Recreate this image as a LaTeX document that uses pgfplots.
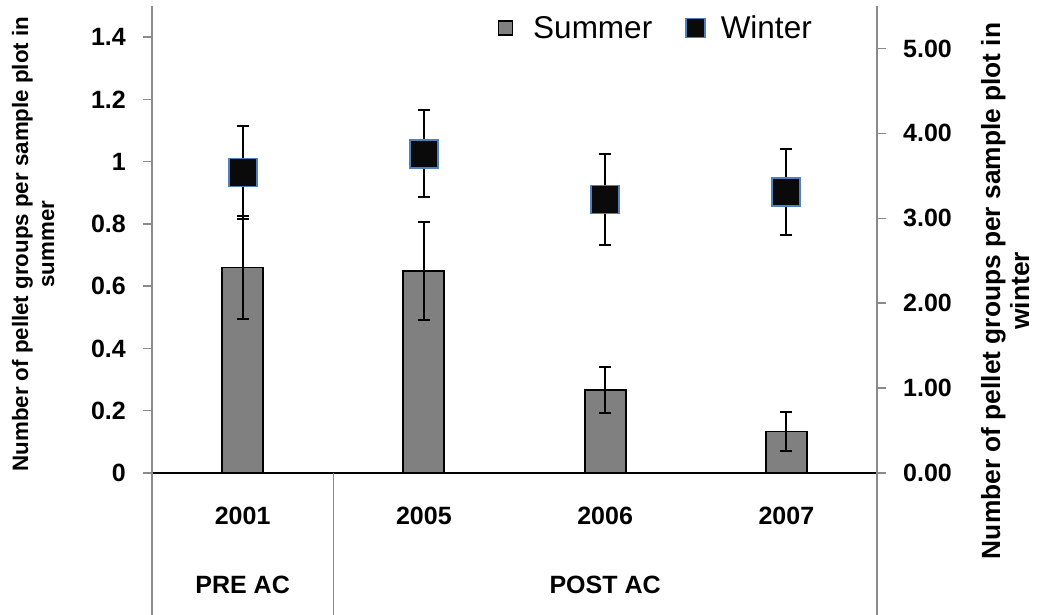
\documentclass[border=0pt]{standalone}
\usepackage{fontspec}
\setmainfont{Liberation Sans}
\usepackage{pgfplots}
\usepackage{pgfplotstable}
\pgfplotsset{compat=1.18}

\definecolor{barfill}{HTML}{808080}
\definecolor{axgray}{HTML}{8A8A8A}
\definecolor{winterfill}{HTML}{0A0A0A}
\definecolor{winteredge}{HTML}{4F81BD}

% mean pellet groups per sample plot, with error
\pgfplotstableread{
x  y      e
0  0.66   0.165
1  0.65   0.157
2  0.267  0.075
3  0.133  0.062
}\summer
\pgfplotstableread{
x  y      e
0  3.54   0.55
1  3.76   0.51
2  3.22   0.535
3  3.31   0.51
}\winter

\pgfplotsset{
  common/.style={
    scale only axis, width=725pt, height=467pt,
    at={(0,0)}, anchor=south west,
    xmin=-0.5, xmax=3.5, ymin=0,
    clip=false,
    tick align=outside, major tick length=9pt,
    /pgf/number format/assume math mode=true,
    yticklabel style={font=\bfseries\fontsize{25}{25}\selectfont, inner sep=0pt},
    ylabel style={align=center, anchor=center},
  },
  errs/.style={
    error bars/.cd, y dir=both, y explicit,
    error bar style={line width=2pt, black},
    error mark options={rotate=90, mark size=6pt, line width=2pt, black},
  },
}

\begin{document}
\begin{tikzpicture}
\useasboundingbox (-152pt,-142pt) rectangle (886pt,473pt);

% summer: bars on the left axis
\begin{axis}[
  common,
  ymax=1.5,
  ytick={0,0.2,0.4,0.6,0.8,1,1.2,1.4},
  axis x line*=bottom, axis y line*=left,
  x axis line style={black, line width=1.2pt},
  y axis line style={axgray, line width=2pt},
  ytick style={axgray, line width=1.5pt},
  yticklabel style={xshift=-17pt},
  xtick={0,1,2,3}, xticklabels={2001,2005,2006,2007},
  xtick style={draw=none},
  xticklabel style={font=\bfseries\fontsize{25}{25}\selectfont,
    anchor=center, yshift=-34pt},
  ylabel={Number of pellet groups per sample plot in\\summer},
  ylabel style={at={(axis description cs:-0.164,0.49)},
    font=\bfseries\fontsize{22.3}{26}\selectfont},
]
\addplot[ybar, bar width=41pt, fill=barfill, draw=black, line width=1.8pt, errs]
  table[x=x, y=y, y error=e]{\summer};

% category frame below the axis
\draw[axgray, line width=1.5pt] (axis cs:-0.5,0) -- ([yshift=-142pt]axis cs:-0.5,0);
\draw[axgray, line width=1.5pt] (axis cs:0.5,0) -- ([yshift=-142pt]axis cs:0.5,0);
\draw[axgray, line width=1.5pt] (axis cs:3.5,0) -- ([yshift=-142pt]axis cs:3.5,0);
\node[font=\bfseries\fontsize{25}{25}\selectfont, anchor=center]
  at ([yshift=-112pt]axis cs:0,0) {PRE AC};
\node[font=\bfseries\fontsize{25}{25}\selectfont, anchor=center]
  at ([yshift=-112pt]axis cs:2,0) {POST AC};
\end{axis}

% winter: markers on the right axis
\begin{axis}[
  common,
  ymax=5.5,
  ytick={0,1,2,3,4,5},
  axis x line=none, axis y line*=right,
  y axis line style={axgray, line width=2pt},
  ytick style={axgray, line width=1.5pt},
  yticklabel style={xshift=17pt, /pgf/number format/.cd, fixed, fixed zerofill, precision=2},
  ylabel={Number of pellet groups per sample plot in\\winter},
  ylabel style={at={(axis description cs:1.177,0.39)},
    font=\bfseries\fontsize{26.3}{29}\selectfont},
  legend columns=2,
  legend style={draw=none, fill=none, inner sep=0pt,
    font=\fontsize{31.5}{31.5}\selectfont,
    at={(axis description cs:0.477,0.953)}, anchor=west,
    /tikz/column 1/.append style={column sep=18pt},
    /tikz/column 2/.append style={column sep=31pt},
    /tikz/column 3/.append style={column sep=13pt}},
]
\addplot[forget plot, only marks, mark=square*, mark size=14pt,
  mark options={fill=winterfill, draw=winteredge, line width=1.8pt}, errs]
  table[x=x, y=y, y error=e]{\winter};

\addlegendimage{legend image code/.code={
  \draw[fill=barfill, draw=black, line width=1.2pt] (0pt,-7pt) rectangle (14pt,7pt);}}
\addlegendentry{Summer}
\addlegendimage{legend image code/.code={
  \draw[fill=winterfill, draw=winteredge, line width=1.5pt] (0pt,-9.5pt) rectangle (19pt,9.5pt);}}
\addlegendentry{Winter}
\end{axis}
\end{tikzpicture}
\end{document}
